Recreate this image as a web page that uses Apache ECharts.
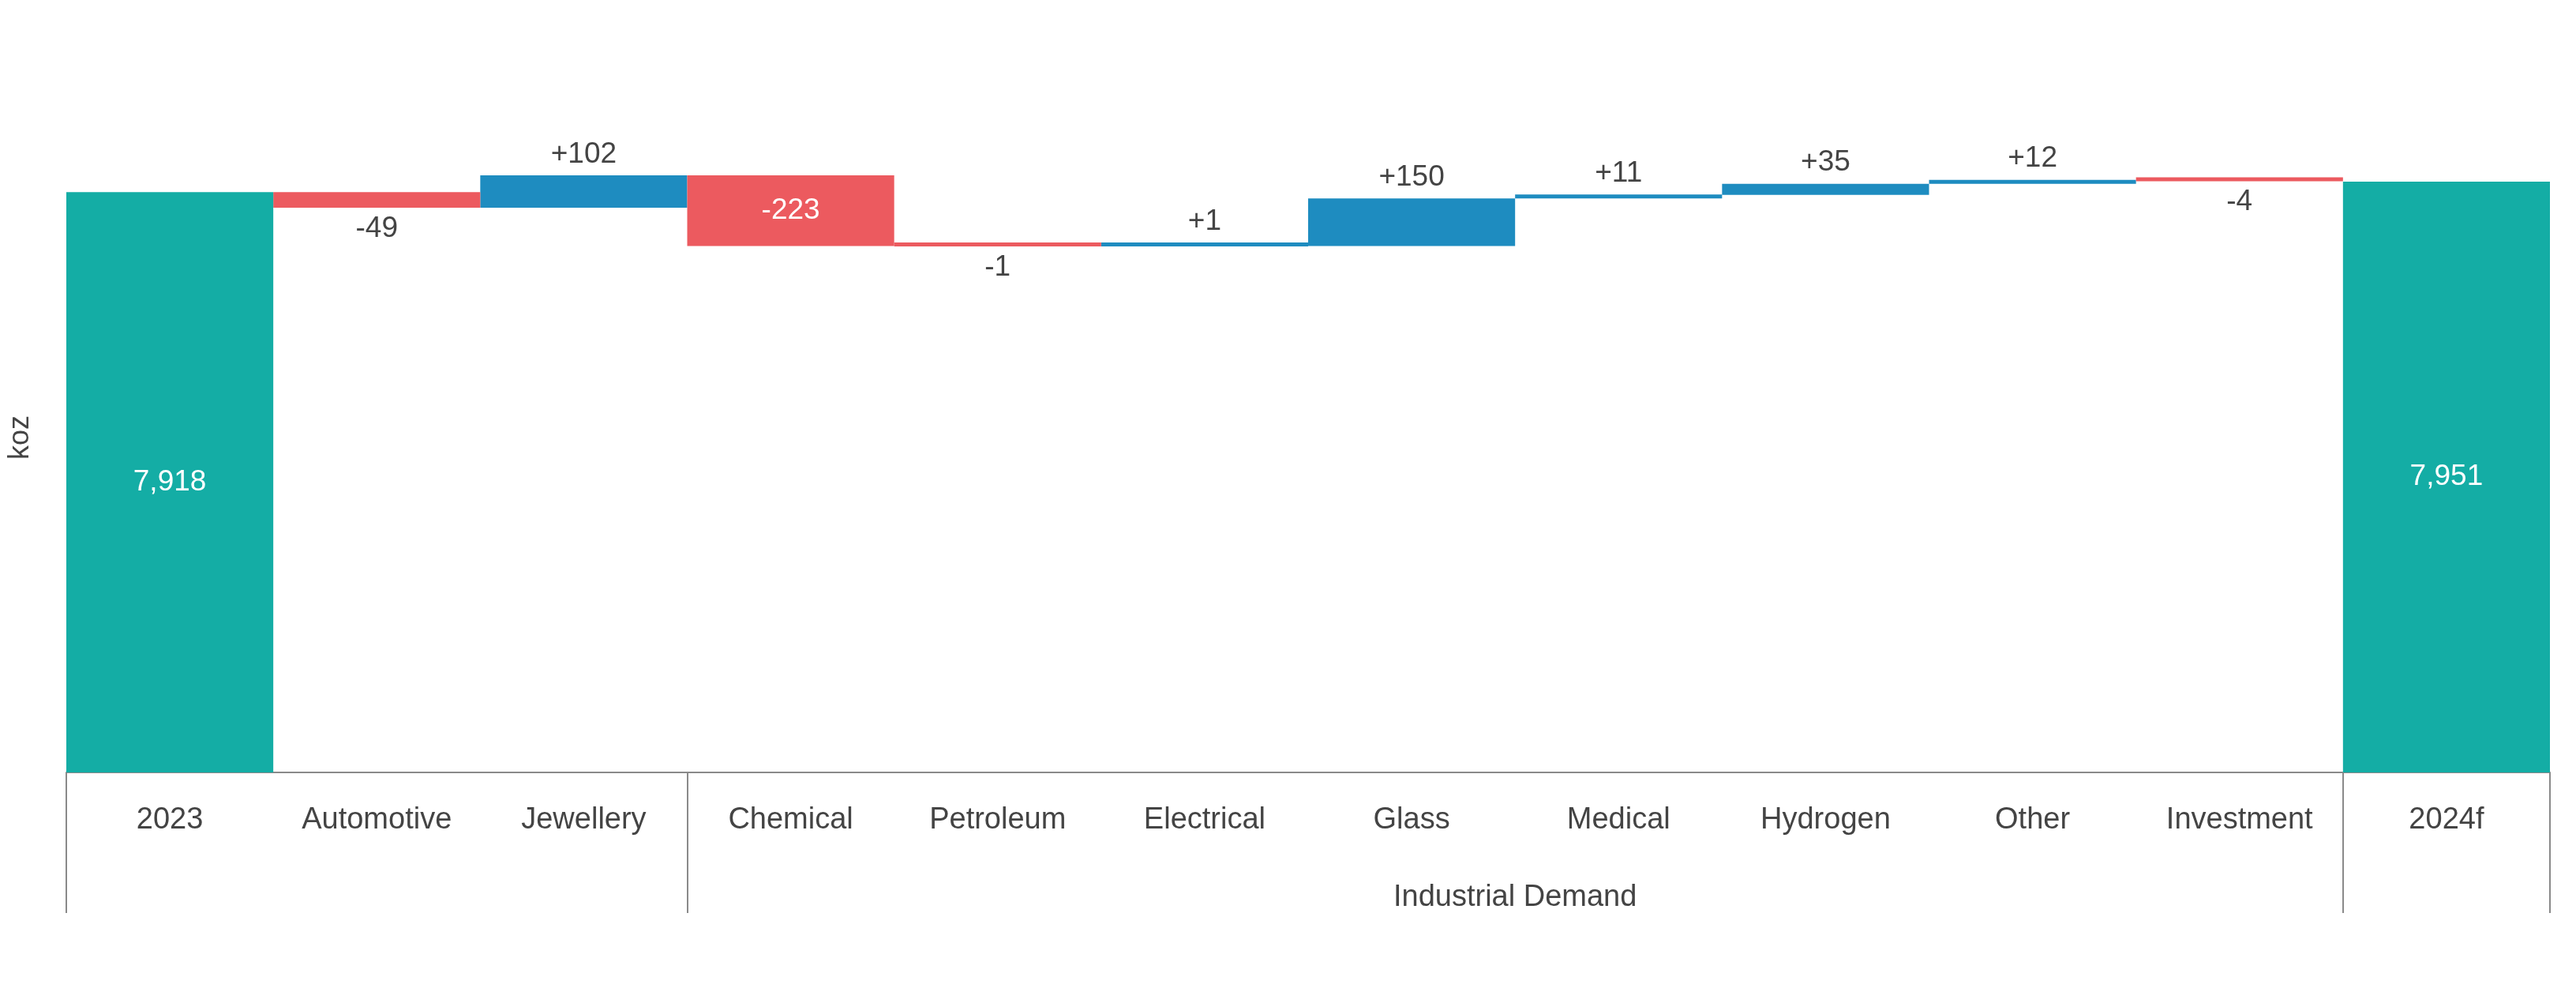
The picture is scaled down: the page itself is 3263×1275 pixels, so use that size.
<!DOCTYPE html>
<html lang="en">
<head>
<meta charset="UTF-8"/>
<title>Waterfall</title>
<style>
  html, body { margin: 0; padding: 0; width: 100vw; height: 100vh; background: #fff; overflow: hidden; }
  #chart { width: 3263px; height: 1275px; }
</style>
</head>
<body>
<div id="chart"></div>
<script src="https://cdn.jsdelivr.net/npm/echarts@6/dist/echarts.min.js"></script>
<script>
const categories = ['2023', 'Automotive', 'Jewellery', 'Chemical', 'Petroleum', 'Electrical', 'Glass', 'Medical', 'Hydrogen', 'Other', 'Investment', '2024f'];
// null for totals
const changes = [null, -49, 102, -223, -1, 1, 150, 11, 35, 12, -4, null];
const totals = [7918, null, null, null, null, null, null, null, null, null, null, 7951];

const teal = '#14ADA5', red = '#EC5A5F', blue = '#1E8CC0', grey = '#8a8a8a', text = '#444';

let running = totals[0];
const base = [], up = [], down = [], tot = [];
categories.forEach((c, i) => {
  if (changes[i] === null) {
    base.push('-'); up.push('-'); down.push('-'); tot.push(totals[i]);
    return;
  }
  const next = running + changes[i];
  base.push(Math.min(running, next));
  up.push(changes[i] > 0 ? changes[i] : '-');
  down.push(changes[i] < 0 ? -changes[i] : '-');
  tot.push('-');
  running = next;
});

const chart = echarts.init(document.getElementById('chart'));
chart.setOption({
  animation: false,
  textStyle: { fontFamily: 'Arial, Liberation Sans, sans-serif' },
  grid: { left: 69, right: 33, top: 130, bottom: 297 },
  xAxis: [{
    type: 'category',
    data: categories,
    axisLine: { lineStyle: { color: grey, width: 2 } },
    axisTick: { interval: 0, length: 72, lineStyle: { color: grey, width: 2 } },
    axisLabel: { interval: 0, color: text, fontSize: 38, margin: 42 }
  }, {
    type: 'value',
    position: 'bottom',
    min: 0, max: 12,
    splitLine: { show: false },
    axisLine: { show: false },
    axisTick: { show: true, length: 178, customValues: [0, 3, 11, 12], lineStyle: { color: grey, width: 2 } },
    axisLabel: { customValues: [7], formatter: () => 'Industrial Demand', color: text, fontSize: 38, margin: 140 }
  }],
  yAxis: {
    type: 'value',
    min: 6088, max: 8200,
    name: 'koz', nameLocation: 'middle', nameGap: 40, nameRotate: 90,
    nameTextStyle: { color: text, fontSize: 36 },
    axisLine: { show: false }, axisTick: { show: false },
    axisLabel: { show: false }, splitLine: { show: false }
  },
  series: [{
    type: 'bar', stack: 'w', data: base, barCategoryGap: '0%',
    itemStyle: { color: 'transparent' }, silent: true
  }, {
    type: 'bar', stack: 'w', data: up, barMinHeight: 5,
    itemStyle: { color: blue },
    label: { show: true, position: 'top', color: text, fontSize: 37, distance: 8, formatter: p => '+' + p.value }
  }, {
    type: 'bar', stack: 'w', barMinHeight: 5,
    data: down.map((v, i) => categories[i] === 'Chemical'
      ? { value: v, label: { position: 'inside', color: '#fff' } } : v),
    itemStyle: { color: red },
    label: { show: true, position: 'bottom', color: text, fontSize: 37, distance: 8, formatter: p => '-' + p.value }
  }, {
    type: 'bar', stack: 'w', data: tot,
    itemStyle: { color: teal },
    label: { show: true, position: 'inside', color: '#fff', fontSize: 37, formatter: p => p.value.toLocaleString('en-US') }
  }]
});
</script>
</body>
</html>
